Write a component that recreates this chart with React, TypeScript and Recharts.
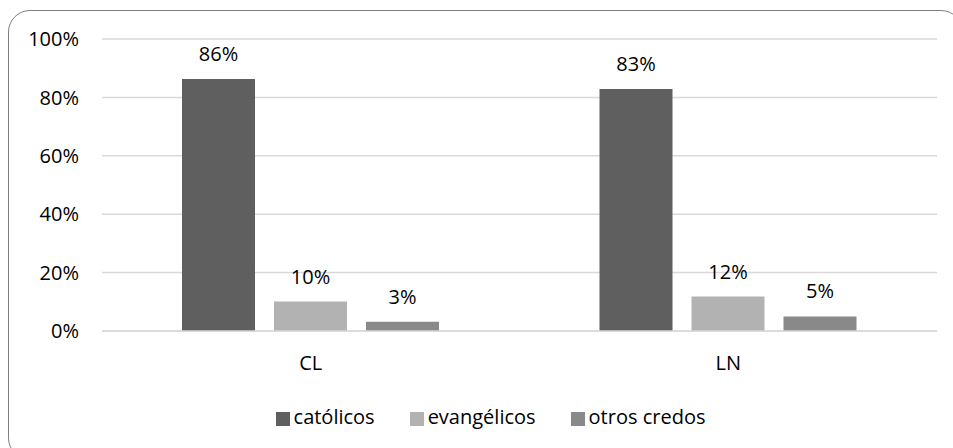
import { Bar, BarChart, CartesianGrid, LabelList, Legend, XAxis, YAxis } from 'recharts';

const groups = ['CL', 'LN'];
const catolicos = [86.3, 82.9];
const evangelicos = [10.1, 11.8];
const otrosCredos = [3.2, 5.0];
const yTicks = [0, 20, 40, 60, 80, 100];

const data = groups.map((g, i) => ({
  group: g,
  'católicos': catolicos[i],
  'evangélicos': evangelicos[i],
  'otros credos': otrosCredos[i],
}));

const font = '"Open Sans", sans-serif';
const pct = (v: any) => `${Math.round(Number(v))}%`;
const labelStyle = { fontSize: 20, fill: '#000', fontFamily: font };

const App = () => {
  return (
    <div style={{ position: 'absolute', left: 0, top: 0, width: 953, height: 448, overflow: 'hidden', background: '#fff', fontFamily: font }}>
      <div
        style={{
          position: 'absolute',
          left: 8,
          top: 10,
          width: 955,
          height: 450,
          border: '1.5px solid #7f7f7f',
          borderRadius: 22,
          boxSizing: 'border-box',
        }}
      />
      <BarChart
        width={953}
        height={448}
        data={data}
        margin={{ top: 39, right: 16, left: 0, bottom: 13 }}
        barCategoryGap={80}
        barGap={19}
        style={{ position: 'absolute', left: 0, top: 0 }}
      >
        <CartesianGrid vertical={false} stroke='#d9d9d9' strokeWidth={1.5} />
        <XAxis
          dataKey='group'
          height={72}
          tickLine={false}
          axisLine={{ stroke: '#d9d9d9', strokeWidth: 1.5 }}
          tickMargin={19}
          tick={labelStyle}
        />
        <YAxis
          width={102}
          domain={[0, 100]}
          ticks={yTicks}
          tickFormatter={(v) => `${v}%`}
          tickLine={false}
          axisLine={false}
          tickMargin={17}
          tick={labelStyle}
        />
        <Legend
          height={32}
          iconType='square'
          iconSize={14}
          wrapperStyle={{ fontSize: 20, fontFamily: font, left: 27, lineHeight: '27px' }}
          formatter={(value, _entry, index) => (
            <span style={{ color: '#000', paddingRight: index < 2 ? 25 : 0 }}>{value}</span>
          )}
        />
        <Bar dataKey='católicos' fill='#5f5f5f' isAnimationActive={false}>
          <LabelList dataKey='católicos' position='top' offset={18} formatter={pct} style={labelStyle} />
        </Bar>
        <Bar dataKey='evangélicos' fill='#b2b2b2' isAnimationActive={false}>
          <LabelList dataKey='evangélicos' position='top' offset={18} formatter={pct} style={labelStyle} />
        </Bar>
        <Bar dataKey='otros credos' fill='#898989' isAnimationActive={false}>
          <LabelList dataKey='otros credos' position='top' offset={18} formatter={pct} style={labelStyle} />
        </Bar>
      </BarChart>
    </div>
  );
};

export default App;
